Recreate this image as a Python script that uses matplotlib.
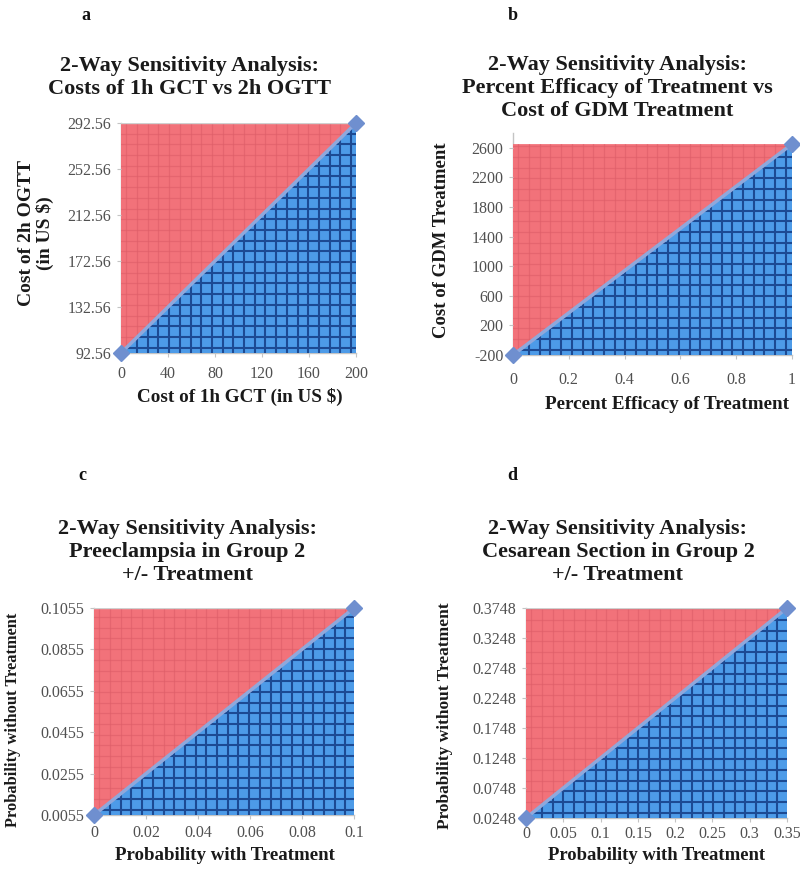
import numpy as np
import matplotlib
matplotlib.use("Agg")
import matplotlib.pyplot as plt
from matplotlib.patches import Polygon

plt.rcParams['font.family'] = ['Liberation Serif', 'DejaVu Serif']

# ---------------- data ----------------
panel_letters = ["a", "b", "c", "d"]
titles = [
    "2-Way Sensitivity Analysis:\nCosts of 1h GCT vs 2h OGTT",
    "2-Way Sensitivity Analysis:\nPercent Efficacy of Treatment vs\nCost of GDM Treatment",
    "2-Way Sensitivity Analysis:\nPreeclampsia in Group 2\n+/- Treatment",
    "2-Way Sensitivity Analysis:\nCesarean Section in Group 2\n+/- Treatment",
]
xlabels = ["Cost of 1h GCT (in US $)", "Percent Efficacy of Treatment",
           "Probability with Treatment", "Probability with Treatment"]
ylabels = ["Cost of 2h OGTT\n(in US $)", "Cost of GDM Treatment",
           "Probability without Treatment", "Probability without Treatment"]

# threshold line endpoints (x, y)
a_x = [0, 200]
a_y = [92.56, 292.56]
b_x = [0, 1]
b_y = [-200, 2650]
c_x = [0, 0.1]
c_y = [0.0055, 0.1055]
d_x = [0, 0.35]
d_y = [0.0248, 0.3748]

a_xticks = [0, 40, 80, 120, 160, 200]
a_yticks = [92.56, 132.56, 172.56, 212.56, 252.56, 292.56]
a_yticklabels = ["92.56", "132.56", "172.56", "212.56", "252.56", "292.56"]
b_xticks = [0, 0.2, 0.4, 0.6, 0.8, 1]
b_xticklabels = ["0", "0.2", "0.4", "0.6", "0.8", "1"]
b_yticks = [-200, 200, 600, 1000, 1400, 1800, 2200, 2600]
c_xticks = [0, 0.02, 0.04, 0.06, 0.08, 0.1]
c_xticklabels = ["0", "0.02", "0.04", "0.06", "0.08", "0.1"]
c_yticks = [0.0055, 0.0255, 0.0455, 0.0655, 0.0855, 0.1055]
c_yticklabels = ["0.0055", "0.0255", "0.0455", "0.0655", "0.0855", "0.1055"]
d_xticks = [0, 0.05, 0.1, 0.15, 0.2, 0.25, 0.3, 0.35]
d_xticklabels = ["0", "0.05", "0.1", "0.15", "0.2", "0.25", "0.3", "0.35"]
d_yticks = [0.0248, 0.0748, 0.1248, 0.1748, 0.2248, 0.2748, 0.3248, 0.3748]
d_yticklabels = ["0.0248", "0.0748", "0.1248", "0.1748", "0.2248", "0.2748", "0.3248", "0.3748"]

# ---------------- layout ----------------
W, H = 800, 877
fig = plt.figure(figsize=(W / 100, H / 100), dpi=100)

def px_axes(l, r, t, b):
    return [l / W, 1 - b / H, (r - l) / W, (b - t) / H]

RED = "#f2727a"
RED_LINE = "#dc5c66"
BLUE = "#4d9be8"
BLUE_LINE = "#1c4a93"
DIAG = "#8fa8dc"
MARK = "#6f8fcf"
AXC = "#c4c4c4"
TICKC = "#505050"

specs = [
    dict(rect=px_axes(121, 356, 123, 353), x=a_x, y=a_y, ylim=(92.56, 292.56),
         xt=a_xticks, xtl=[str(v) for v in a_xticks], yt=a_yticks, ytl=a_yticklabels,
         top_line=True, xpad=6),
    dict(rect=px_axes(513, 792, 133, 355), x=b_x, y=b_y, ylim=(-200, 2800),
         xt=b_xticks, xtl=b_xticklabels, yt=b_yticks, ytl=[str(v) for v in b_yticks],
         top_line=False, xpad=9),
    dict(rect=px_axes(94, 354, 608, 815), x=c_x, y=c_y, ylim=(0.0055, 0.1055),
         xt=c_xticks, xtl=c_xticklabels, yt=c_yticks, ytl=c_yticklabels,
         top_line=True, xpad=4),
    dict(rect=px_axes(526, 787, 608, 818), x=d_x, y=d_y, ylim=(0.0248, 0.3748),
         xt=d_xticks, xtl=d_xticklabels, yt=d_yticks, ytl=d_yticklabels,
         top_line=True, xpad=3),
]

letter_pos = [(86, 16), (513, 16), (82, 476), (512, 476)]
title_pos = [(190, 77), (617, 88), (187, 552), (618, 552)]
xlabel_pos = [(240, 397), (667, 405), (225, 855), (657, 856)]
ylabel_pos = [(36, 233), (442, 240), (13, 720), (445, 716)]
ylabel_size = [14, 13.5, 11.8, 12.5]
xlabel_size = [13.8, 13.8, 13.6, 13.4]

GRID_PX = 10.7

for i, s in enumerate(specs):
    ax = fig.add_axes(s["rect"])
    x0, x1 = s["x"]
    y0, y1 = s["y"]
    ax.set_xlim(x0, x1)
    ax.set_ylim(*s["ylim"])

    red_poly = Polygon([(x0, y0), (x1, y1), (x0, y1)], closed=True,
                       facecolor=RED, edgecolor="none", zorder=1)
    blue_poly = Polygon([(x0, y0), (x1, y0), (x1, y1)], closed=True,
                        facecolor=BLUE, edgecolor="none", zorder=1)
    ax.add_patch(red_poly)
    ax.add_patch(blue_poly)

    # hatching grid (decoration), in axes-fraction coordinates
    wpx = s["rect"][2] * W
    hpx = s["rect"][3] * H
    xs = np.arange(GRID_PX / 2, wpx, GRID_PX) / wpx
    ys = np.arange(GRID_PX / 2, hpx, GRID_PX) / hpx
    for poly, col, lw, al in [(red_poly, RED_LINE, 0.9, 0.55), (blue_poly, BLUE_LINE, 1.5, 1.0)]:
        for xv in xs:
            ln, = ax.plot([xv, xv], [0, 1], transform=ax.transAxes, color=col,
                          lw=lw, alpha=al, zorder=2)
            ln.set_clip_path(poly)
        for yv in ys:
            ln, = ax.plot([0, 1], [yv, yv], transform=ax.transAxes, color=col,
                          lw=lw, alpha=al, zorder=2)
            ln.set_clip_path(poly)

    if s["top_line"]:
        ax.plot([x0, x1], [y1, y1], color="#d0d0d0", lw=1.0, zorder=3)

    ax.plot(s["x"], s["y"], color=DIAG, lw=2.5, zorder=4, solid_capstyle="butt")
    ax.plot(s["x"], s["y"], linestyle="none", marker="D", markersize=8,
            color=MARK, markeredgecolor=MARK, zorder=5, clip_on=False)

    for side in ["top", "right"]:
        ax.spines[side].set_visible(False)
    for side in ["left", "bottom"]:
        ax.spines[side].set_color(AXC)
        ax.spines[side].set_linewidth(1.0)
        ax.spines[side].set_zorder(0)

    ax.set_xticks(s["xt"])
    ax.set_xticklabels(s["xtl"])
    ax.set_yticks(s["yt"])
    ax.set_yticklabels(s["ytl"])
    ax.tick_params(axis="both", length=3, color=AXC, labelsize=11.5, labelcolor=TICKC)
    ax.tick_params(axis="x", pad=s["xpad"])
    ax.tick_params(axis="y", pad=4)

    fig.text(letter_pos[i][0] / W, 1 - letter_pos[i][1] / H, panel_letters[i],
             fontsize=13, fontweight="bold", ha="center", va="center", color="#111111")
    fig.text(title_pos[i][0] / W, 1 - title_pos[i][1] / H, titles[i],
             fontsize=16, fontweight="bold", ha="center", va="center",
             linespacing=1.2, color="#1a1a1a")
    fig.text(xlabel_pos[i][0] / W, 1 - xlabel_pos[i][1] / H, xlabels[i],
             fontsize=xlabel_size[i], fontweight="bold", ha="center", va="center",
             color="#1a1a1a")
    fig.text(ylabel_pos[i][0] / W, 1 - ylabel_pos[i][1] / H, ylabels[i],
             fontsize=ylabel_size[i], fontweight="bold", ha="center", va="center",
             rotation=90, linespacing=1.05, color="#1a1a1a")

fig.savefig("out.png", dpi=100, facecolor="white")
